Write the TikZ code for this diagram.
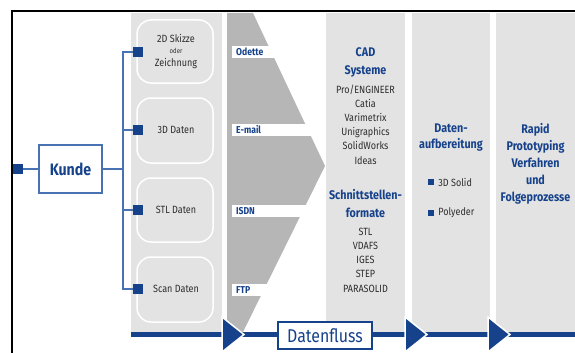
\documentclass[tikz,border=0pt]{standalone}
\usepackage{fontspec}
\setmainfont{Fira Sans}[FakeStretch=0.86]
\usepackage{xcolor}
\usetikzlibrary{positioning}
\definecolor{dfblue}{RGB}{22,66,140}
\definecolor{lineblue}{RGB}{72,114,178}
\definecolor{panelgray}{RGB}{227,227,227}
\definecolor{funnelgray}{RGB}{182,182,182}
\definecolor{txtgray}{RGB}{45,45,45}
\newcommand{\listfont}{\fontsize{10.5}{14.2}\selectfont}

\begin{document}
\begin{tikzpicture}[
  x=1pt, y=-1pt,
  panel/.style={fill=panelgray},
  srcbox/.style={draw=white, line width=1.5pt, rounded corners=14pt},
  srctext/.style={align=center, text=txtgray, font=\listfont, inner sep=0pt},
  head/.style={align=center, text=dfblue, font=\bfseries\fontsize{12.5}{18}\selectfont, inner sep=0pt},
  items/.style={align=center, text=txtgray, font=\listfont, inner sep=0pt},
  bandlbl/.style={anchor=west, text=dfblue, font=\bfseries\fontsize{10}{10}\selectfont, inner sep=0pt},
  sq/.style={fill=dfblue, minimum size=10pt, inner sep=0pt},
  bsq/.style={fill=dfblue, minimum size=6pt, inner sep=0pt},
  link/.style={draw=lineblue, line width=1.2pt},
  flowtip/.style={fill=dfblue, draw=white, line width=1.5pt, line join=miter}]
\useasboundingbox (0,0) rectangle (575,353);
% columns
\fill[panel] (131,13) rectangle (222,332);
\fill[panel] (326,13) rectangle (405,332);
\fill[panel] (412,13) rectangle (490,332);
\fill[panel] (496,13) rectangle (575,332);
% funnel with transfer bands
\fill[funnelgray] (227,13) -- (253,13) -- (325,166) -- (243,332) -- (227,332) -- cycle;
\foreach \by in {52,130,211,290}
  \fill[white] (232,\by-6) rectangle (325,\by+6);
\node[bandlbl] (odette) at (236,52) {Odette};
\node[bandlbl] (email) at (236,130) {E-mail};
\node[bandlbl] (isdn) at (236,211) {ISDN};
\node[bandlbl] (ftp) at (236,290) {FTP};
% source boxes
\draw[srcbox] (137,20) rectangle (213,83);
\draw[srcbox] (137,98) rectangle (213,163);
\draw[srcbox] (137,178) rectangle (213,242);
\draw[srcbox] (137,257) rectangle (213,322);
\node[srctext] (skizze) at (176,51.5) {2D Skizze\\[-3pt]{\fontsize{7}{8}\selectfont oder}\\[-2pt]Zeichnung};
\node[srctext] (daten3d) at (176,130) {3D Daten};
\node[srctext] (stl) at (176,210) {STL Daten};
\node[srctext] (scan) at (176,289) {Scan Daten};
% flow bar
\fill[dfblue] (131,332) rectangle (575,337);
\foreach \bx in {222,405,488}
  \filldraw[flowtip] (\bx,317) -- (\bx+22,334.5) -- (\bx,352) -- cycle;
\node[draw=dfblue, line width=1.5pt, fill=white, minimum width=94pt, minimum height=27pt,
  text=dfblue, font=\fontsize{18.5}{20}\selectfont, inner sep=0pt] (flow) at (325,335.5) {Datenfluss};
% CAD column
\node[head] (cad) at (365.5,62) {CAD\\Systeme};
\node[items] (cadlist) at (365.5,124.5) {Pro/ENGINEER\\Catia\\Varimetrix\\Unigraphics\\SolidWorks\\Ideas};
\node[head] (formate) at (365.5,204) {Schnittstellen-\\formate};
\node[items] (fmtlist) at (365.5,260) {STL\\VDAFS\\IGES\\STEP\\PARASOLID};
% preparation column
\node[head, font=\bfseries\fontsize{12.5}{16}\selectfont] (aufb) at (451,138) {Daten-\\aufbereitung};
\node[bsq] (b1) at (431,182) {};
\node[items, right=4pt of b1] (solid) {3D Solid};
\node[bsq] (b2) at (431,213) {};
\node[items, right=4pt of b2] (poly) {Polyeder};
% rapid prototyping column
\node[head, font=\bfseries\fontsize{12.5}{17}\selectfont] (rp) at (535.5,163.5) {Rapid\\Prototyping\\Verfahren\\und\\Folgeprozesse};
% customer and branches
\node[draw=lineblue, line width=1.5pt, minimum width=63pt, minimum height=48pt,
  text=dfblue, font=\bfseries\fontsize{16.5}{18}\selectfont, inner sep=0pt] (kunde) at (70.5,169) {Kunde};
\node[sq] (sq0) at (18,169) {};
\node[sq] (sq1) at (138,52) {};
\node[sq] (sq2) at (138,130) {};
\node[sq] (sq3) at (138,210) {};
\node[sq] (sq4) at (138,289) {};
\coordinate (trunk) at (123,169);
\draw[link] (sq0) -- (kunde);
\draw[link] (kunde) -- (trunk);
\draw[link] (sq1.west) -| (trunk) |- (sq4.west);
\draw[link] (sq2.west) -- (sq2.west -| trunk);
\draw[link] (sq3.west) -- (sq3.west -| trunk);
% frame
\draw[line width=1.3pt] (12,360) -- (12,11) -- (580,11);
\end{tikzpicture}
\end{document}
